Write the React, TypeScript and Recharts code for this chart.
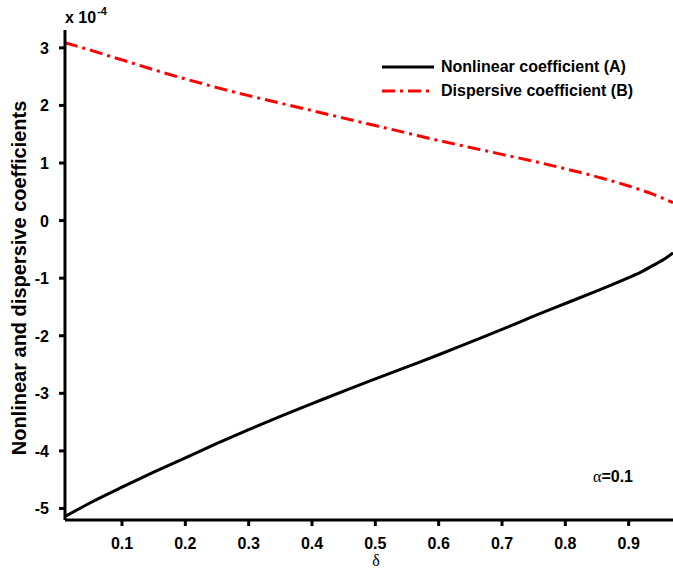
import React from 'react';
import { LineChart, Line, XAxis, YAxis, Legend, Label } from 'recharts';

// delta values and the two coefficients (units of 1e-4)
const deltas = [0.01, 0.05, 0.1, 0.15, 0.2, 0.25, 0.3, 0.35, 0.4, 0.45, 0.5, 0.55, 0.6, 0.65, 0.7, 0.75, 0.8, 0.85, 0.9, 0.92, 0.94, 0.96, 0.97];
const nonlinear = [-5.14, -4.9, -4.63, -4.37, -4.12, -3.87, -3.63, -3.4, -3.18, -2.96, -2.75, -2.54, -2.33, -2.11, -1.89, -1.66, -1.44, -1.22, -0.99, -0.89, -0.77, -0.64, -0.56];
const dispersive = [3.09, 2.96, 2.79, 2.62, 2.46, 2.31, 2.17, 2.04, 1.91, 1.78, 1.65, 1.52, 1.39, 1.27, 1.15, 1.03, 0.9, 0.76, 0.6, 0.53, 0.45, 0.36, 0.31];

const xTicks = [0.1, 0.2, 0.3, 0.4, 0.5, 0.6, 0.7, 0.8, 0.9];
const yTicks = [-5, -4, -3, -2, -1, 0, 1, 2, 3];
const legendOrder = ['Nonlinear coefficient (A)', 'Dispersive coefficient (B)'];

const data = deltas.map((d, i) => ({ delta: d, A: nonlinear[i], B: dispersive[i] }));

const FONT = '"Liberation Sans", Arial, sans-serif';
const SERIF = '"Liberation Serif", "Times New Roman", serif';
const RED_DASH = '13 5 3 5';

const XTick = (props: any) => {
  const { x, y, payload } = props;
  return (
    <g>
      <line x1={x} y1={y} x2={x} y2={y - 7} stroke="#000" strokeWidth={3} />
      <text x={x} y={y + 23} textAnchor="middle" fontFamily={FONT} fontWeight="bold" fontSize={16} fill="#000">
        {payload.value}
      </text>
    </g>
  );
};

const TopTick = (props: any) => {
  const { x, y } = props;
  return <line x1={x} y1={y} x2={x} y2={y + 7} stroke="#000" strokeWidth={3} />;
};

const YTick = (props: any) => {
  const { x, y, payload } = props;
  return (
    <g>
      <line x1={x} y1={y} x2={x + 7} y2={y} stroke="#000" strokeWidth={3} />
      <text x={x - 10} y={y + 6} textAnchor="end" fontFamily={FONT} fontWeight="bold" fontSize={16} fill="#000">
        {payload.value}
      </text>
    </g>
  );
};

const renderLegend = (props: any) => {
  const items = [...(props.payload || [])].sort(
    (a: any, b: any) => legendOrder.indexOf(a.value) - legendOrder.indexOf(b.value)
  );
  return (
    <div>
      {items.map((entry: any) => (
        <div key={entry.value} style={{ display: 'flex', alignItems: 'center', height: 24 }}>
          <svg width={52} height={10} style={{ marginRight: 7 }}>
            <line x1={0} y1={5} x2={52} y2={5} stroke={entry.color} strokeWidth={3}
              strokeDasharray={entry.payload?.strokeDasharray} />
          </svg>
          <span style={{ fontFamily: FONT, fontWeight: 'bold', fontSize: 16, color: '#000' }}>{entry.value}</span>
        </div>
      ))}
    </div>
  );
};

export default function App() {
  return (
    <div style={{ position: 'absolute', left: 0, top: 0 }}>
      <LineChart width={673} height={568} data={data} margin={{ top: 30, right: 0, bottom: 0, left: 0 }}>
        <XAxis
          dataKey="delta"
          type="number"
          domain={[0.01, 0.97]}
          ticks={xTicks}
          height={48}
          tickLine={false}
          tickMargin={0}
          tick={<XTick />}
          axisLine={{ stroke: '#000', strokeWidth: 3 }}
          allowDataOverflow
        >
          <Label
            content={() => (
              <g>
                <text x={376} y={566} textAnchor="middle" fontFamily={SERIF} fontSize={16} fill="#000">δ</text>
                <text x={593} y={482} fontSize={16} fill="#000">
                  <tspan fontFamily={SERIF}>α</tspan>
                  <tspan fontFamily={FONT} fontWeight="bold">=0.1</tspan>
                </text>
              </g>
            )}
          />
        </XAxis>
        <XAxis
          xAxisId="top"
          dataKey="delta"
          type="number"
          orientation="top"
          domain={[0.01, 0.97]}
          ticks={xTicks}
          height={0}
          tickLine={false}
          tickMargin={0}
          tick={<TopTick />}
          axisLine={{ stroke: '#000', strokeWidth: 3 }}
          allowDataOverflow
        />
        <YAxis
          type="number"
          domain={[-5.2, 3.31]}
          ticks={yTicks}
          width={65}
          tickLine={false}
          tickMargin={0}
          tick={<YTick />}
          axisLine={{ stroke: '#000', strokeWidth: 3 }}
          allowDataOverflow
        >
          <Label
            content={() => (
              <g>
                <text x={26} y={278} transform="rotate(-90 26 278)" textAnchor="middle" fontFamily={FONT}
                  fontWeight="bold" fontSize={20} fill="#000">
                  Nonlinear and dispersive coefficients
                </text>
                <text x={65} y={23} fontFamily={FONT} fontWeight="bold" fontSize={16} fill="#000">
                  x 10
                  <tspan dx={1} dy={-8} fontSize={11}>-4</tspan>
                </text>
              </g>
            )}
          />
        </YAxis>
        <Legend
          layout="vertical"
          align="center"
          verticalAlign="middle"
          wrapperStyle={{ left: 382, top: 55, width: 290 }}
          content={renderLegend}
        />
        <Line
          type="monotone"
          dataKey="A"
          name="Nonlinear coefficient (A)"
          stroke="#000"
          strokeWidth={3}
          dot={false}
          isAnimationActive={false}
        />
        <Line
          type="monotone"
          dataKey="B"
          name="Dispersive coefficient (B)"
          stroke="#ff0000"
          strokeWidth={3}
          strokeDasharray={RED_DASH}
          dot={false}
          isAnimationActive={false}
        />
      </LineChart>
    </div>
  );
}
